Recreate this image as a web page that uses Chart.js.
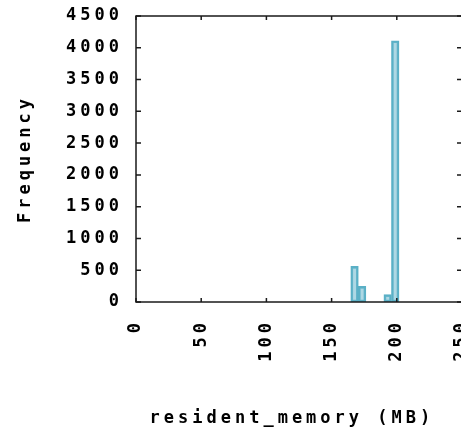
<!DOCTYPE html>
<html>
<head>
<meta charset="utf-8">
<script src="https://cdn.jsdelivr.net/npm/chart.js@4.4.1/dist/chart.umd.min.js"></script>
<style>
  html, body { margin: 0; padding: 0; background: #fff; overflow: hidden; }
  #wrap { width: 461px; height: 433px; overflow: hidden; }
  #wrap canvas { display: block; }
</style>
</head>
<body>
<div id="wrap"><canvas id="histChart" width="466" height="433"></canvas></div>
<script>
// Histogram of resident memory

const binCenters = [167.6, 173.4, 193.0, 198.8];
const binCounts = [560, 245, 115, 4110];
const xTicks = [0, 50, 100, 150, 200, 250];
const yTicks = [0, 500, 1000, 1500, 2000, 2500, 3000, 3500, 4000, 4500];

const LETTER_SPACING = '4px';

Chart.defaults.font.family = "'DejaVu Sans Mono', monospace";
Chart.defaults.font.size = 17;
Chart.defaults.font.weight = 'bold';
Chart.defaults.color = '#000';

// wide pixel-ish text like the original
const spacingPlugin = {
    id: 'spacing',
    beforeUpdate(chart) { chart.ctx.letterSpacing = LETTER_SPACING; },
    beforeDraw(chart) { chart.ctx.letterSpacing = LETTER_SPACING; }
};

// box around the plot with inward ticks on all four sides
const framePlugin = {
    id: 'frame',
    afterDatasetsDraw(chart) {
        const { ctx, chartArea: a, scales: { x, y } } = chart;
        ctx.save();
        ctx.strokeStyle = '#1a1a1a';
        ctx.lineWidth = 1.5;
        ctx.beginPath();
        xTicks.forEach(v => {
            const px = x.getPixelForValue(v);
            ctx.moveTo(px, a.bottom); ctx.lineTo(px, a.bottom - 4);
            ctx.moveTo(px, a.top); ctx.lineTo(px, a.top + 4);
        });
        yTicks.forEach(v => {
            const py = y.getPixelForValue(v);
            ctx.moveTo(a.left, py); ctx.lineTo(a.left + 5, py);
            ctx.moveTo(a.right, py); ctx.lineTo(a.right - 5, py);
        });
        ctx.stroke();
        ctx.strokeRect(a.left, a.top, a.right - a.left, a.bottom - a.top);
        ctx.restore();
    }
};

// keep the plot box where the original has it
function noPadding(axis) {
    axis.paddingLeft = 0;
    axis.paddingRight = 0;
    axis.paddingTop = 0;
    axis.paddingBottom = 0;
}

const ctx = document.getElementById('histChart');

new Chart(ctx, {
    type: 'bar',
    data: {
        datasets: [{
            data: binCenters.map((c, i) => ({ x: c, y: binCounts[i] })),
            backgroundColor: 'rgba(120, 190, 210, 0.6)',
            borderColor: '#5ab0c6',
            borderWidth: 2,
            borderSkipped: false,
            barPercentage: 1,
            categoryPercentage: 1
        }]
    },
    options: {
        responsive: false,
        animation: false,
        layout: { padding: { left: 0, top: 16, right: 4, bottom: 0 } },
        plugins: {
            legend: { display: false },
            tooltip: { enabled: false }
        },
        scales: {
            x: {
                type: 'linear',
                min: 0,
                max: 250,
                offset: false,
                grid: { display: false },
                border: { display: false },
                afterBuildTicks: axis => { axis.ticks = xTicks.map(v => ({ value: v })); },
                afterFit: axis => { axis.height = 131; noPadding(axis); },
                ticks: {
                    minRotation: 90,
                    maxRotation: 90,
                    autoSkip: false,
                    padding: 9,
                    callback: v => String(v)
                },
                title: {
                    display: true,
                    text: 'resident_memory (MB) ',
                    padding: { top: 0, bottom: 4 }
                }
            },
            y: {
                min: 0,
                max: 4500,
                grid: { display: false },
                border: { display: false },
                afterBuildTicks: axis => { axis.ticks = yTicks.map(v => ({ value: v })); },
                afterFit: axis => { axis.width = 136; noPadding(axis); },
                ticks: { padding: 5, callback: v => String(v) },
                title: {
                    display: true,
                    text: 'Frequency',
                    padding: { top: 15.5, bottom: 0 }
                }
            }
        }
    },
    plugins: [spacingPlugin, framePlugin]
});
</script>
</body>
</html>
